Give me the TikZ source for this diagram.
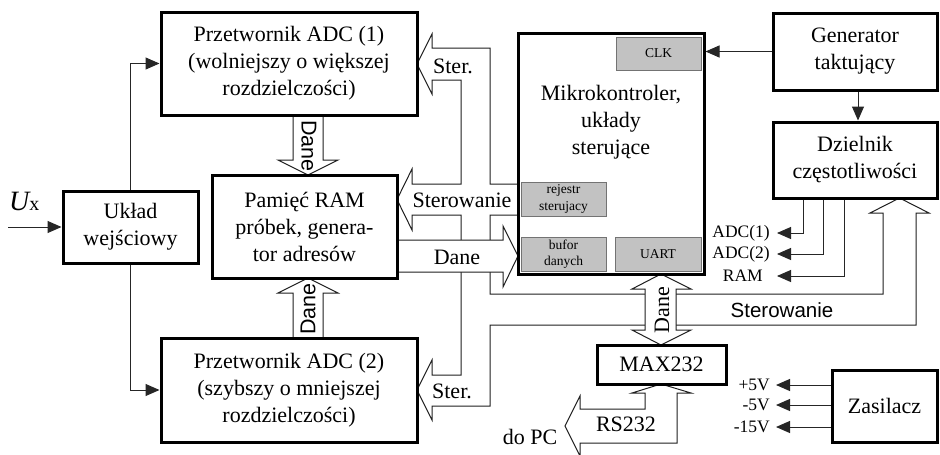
\documentclass[tikz,border=0pt]{standalone}
\usepackage{fontspec}
\setmainfont{Liberation Serif}
\newfontfamily\arialf{Liberation Sans}
\usetikzlibrary{arrows.meta,backgrounds,calc}
\begin{document}
\begin{tikzpicture}[x=1pt,y=-1pt,
  box/.style={draw=black,line width=3pt,fill=white,inner sep=0pt,align=center,font=\fontsize{22}{27}\selectfont},
  sub/.style={draw=black!55,line width=0.7pt,fill=black!24,inner sep=0pt,align=center,font=\fontsize{13.5}{16.5}\selectfont},
  wire/.style={draw=black!85,line width=1pt},
  tip/.style={-{Triangle[length=14pt,width=12pt]}},
  bus/.style={draw=black!88,line width=1pt,fill=white,line join=miter},
  lbl/.style={inner sep=0pt,font=\fontsize{22}{27}\selectfont},
  sanslbl/.style={inner sep=0pt,font=\arialf\fontsize{21.5}{24}\selectfont},
  slbl/.style={inner sep=0pt,font=\fontsize{17.5}{20}\selectfont},
]
\useasboundingbox (0,0) rectangle (940,455);

% ---------- blocks ----------
\node[box,minimum width=256pt,minimum height=103pt] (adc1) at (289,63.5) {Przetwornik ADC (1)\\(wolniejszy o większej\\rozdzielczości)};
\node[box,minimum width=185pt,minimum height=103pt] (ram) at (304.5,226.5) {Pamięć RAM\\próbek, genera-\\tor adresów};
\node[box,minimum width=135pt,minimum height=72pt] (uk) at (130.5,227) {Układ\\wejściowy};
\node[box,minimum width=256pt,minimum height=104pt] (adc2) at (289,390) {Przetwornik ADC (2)\\(szybszy o mniejszej\\rozdzielczości)};
\node[box,minimum width=186pt,minimum height=241pt] (mcu) at (611,153.5) {};
\node[lbl,align=center] (mcutxt) at (611,122) {Mikrokontroler,\\układy\\sterujące};
\node[sub,minimum width=85pt,minimum height=33pt] (clk) at (658.5,53.5) {CLK};
\node[sub,minimum width=85pt,minimum height=34pt] (rej) at (563.5,199) {rejestr\\sterujacy};
\node[sub,minimum width=85pt,minimum height=34pt] (buf) at (563.5,254) {bufor\\danych};
\node[sub,minimum width=86pt,minimum height=34pt] (uart) at (658,254) {UART};
\node[box,minimum width=164pt,minimum height=77pt] (gen) at (855,51.5) {Generator\\taktujący};
\node[box,minimum width=164pt,minimum height=76pt] (dz) at (855,160) {Dzielnik\\częstotliwości};
\node[box,minimum width=129pt,minimum height=39pt] (max) at (661.5,364.5) {MAX232};
\node[box,minimum width=105pt,minimum height=72pt] (zas) at (884.5,406) {Zasilacz};

% ---------- buses (background) ----------
\begin{scope}[on background layer]
\fill[white] (0,0) rectangle (940,455);
% control bus
\path[bus] (432,34) -- (417,64) -- (432,94) -- (432,80) -- (461,80) -- (461,184)
  -- (412,184) -- (412,169) -- (397,199.5) -- (412,230) -- (412,215) -- (461,215)
  -- (461,375) -- (432,375) -- (432,360) -- (417,390) -- (432,420) -- (432,406)
  -- (490,406) -- (490,325) -- (916,325) -- (916,213) -- (929,213) -- (899.5,198)
  -- (870,213) -- (883,213) -- (883,294) -- (490,294) -- (490,215) -- (518,215)
  -- (518,184) -- (490,184) -- (490,48) -- (432,48) -- cycle;
% RS232 bus
\path[bus] (565,426) -- (580,396) -- (580,409) -- (645,409) -- (645,393) -- (632,393)
  -- (661,384) -- (691,393) -- (677,393) -- (677,443) -- (580,443) -- (580,456) -- cycle;
% data buses
\path[bus] (397,240) -- (503,240) -- (503,226) -- (518,256) -- (503,287) -- (503,272) -- (397,272) -- cycle;
\path[bus] (293,115) -- (293,160) -- (278,160) -- (308,175) -- (338,160) -- (323,160) -- (323,115) -- cycle;
\path[bus] (293,338) -- (293,293) -- (278,293) -- (308,278) -- (338,293) -- (323,293) -- (323,338) -- cycle;
\path[bus] (661,274) -- (691,289) -- (676,289) -- (676,330) -- (691,330) -- (661,345)
  -- (632,330) -- (645,330) -- (645,289) -- (632,289) -- cycle;
\end{scope}

% ---------- bus labels ----------
\node[sanslbl,rotate=-90] (d1) at (309,146) {Dane};
\node[sanslbl,rotate=90] (d2) at (308,309) {Dane};
\node[lbl] (d3) at (457,257) {Dane};
\node[lbl,rotate=90] (d4) at (662,310) {Dane};
\node[lbl] (s1) at (453,66) {Ster.};
\node[lbl] (s2) at (462,200) {Sterowanie};
\node[lbl] (s3) at (452,391) {Ster.};
\node[sanslbl,font=\arialf\fontsize{20.5}{24}\selectfont] (s4) at (782,310) {Sterowanie};
\node[lbl] (rs) at (626,424) {RS232};
\node[lbl] (pc) at (530,437) {do PC};

% ---------- thin connections ----------
\coordinate (uin) at (8,227);
\draw[wire,tip] (uin) -- (uin -| uk.west);
\node[inner sep=0pt,anchor=base west] (ux) at (9,210) {{\fontsize{28}{30}\selectfont\itshape U}{\fontsize{20}{20}\selectfont x}};
\draw[wire,tip] (uk.north) |- (adc1.west);
\draw[wire,tip] (uk.south) |- (adc2.west);
\draw[wire,tip] (gen.west) -- (gen.west -| mcu.east);
\draw[wire,tip] ([xshift=3pt]gen.south) -- ([xshift=3pt]dz.north);

\coordinate (t1) at (777,233);
\coordinate (t2) at (777,254);
\coordinate (t3) at (777,276);
\draw[wire,tip] ([xshift=32pt]dz.south west) |- (t1);
\draw[wire,tip] ([xshift=52pt]dz.south west) |- (t2);
\draw[wire,tip] ([xshift=73pt]dz.south west) |- (t3);
\node[slbl,anchor=east] (la1) at (770,233) {ADC(1)};
\node[slbl,anchor=east] (la2) at (770,254) {ADC(2)};
\node[slbl,anchor=east] (la3) at (763,276) {RAM};

\coordinate (p1) at (776,385);
\coordinate (p2) at (776,405);
\coordinate (p3) at (776,427);
\draw[wire,tip] (zas.west |- p1) -- (p1);
\draw[wire,tip] (zas.west |- p2) -- (p2);
\draw[wire,tip] (zas.west |- p3) -- (p3);
\node[slbl,anchor=east] (lp1) at (770,385) {+5V};
\node[slbl,anchor=east] (lp2) at (770,405) {-5V};
\node[slbl,anchor=east] (lp3) at (770,427) {-15V};
\end{tikzpicture}
\end{document}
